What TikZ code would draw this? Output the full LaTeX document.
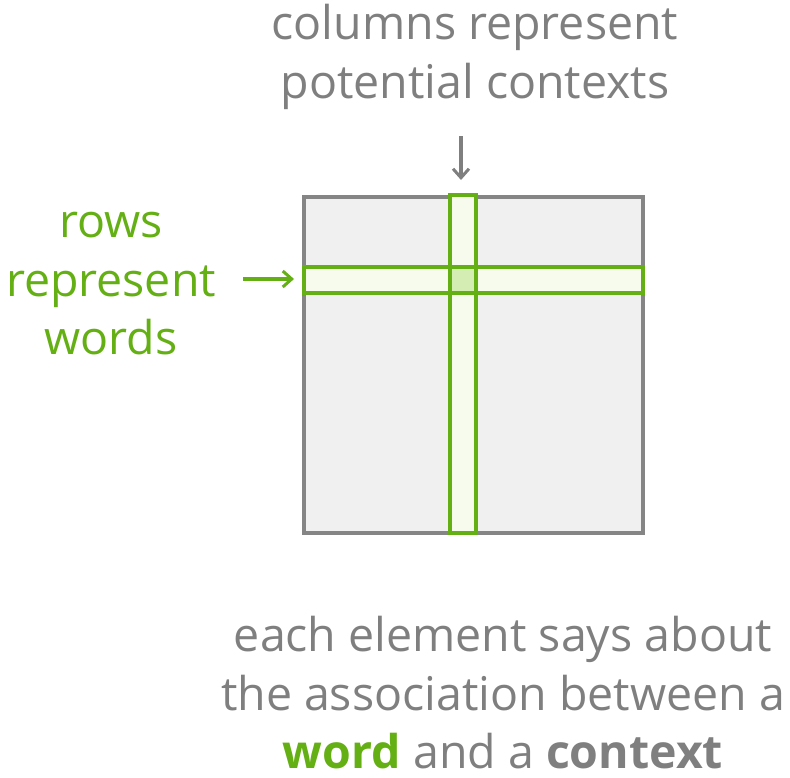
\documentclass[tikz,border=0pt]{standalone}
\usepackage{fontspec}
\setmainfont{Open Sans}
\usetikzlibrary{positioning,arrows.meta}

\definecolor{txtgray}{HTML}{7F7F7F}
\definecolor{boxgray}{HTML}{858585}
\definecolor{boxfill}{HTML}{F0F0F0}
\definecolor{leafgreen}{HTML}{64AF14}
\definecolor{stripfill}{HTML}{F7FBEE}
\definecolor{cellfill}{HTML}{D4EDB3}

\tikzset{
	matrixbox/.style={draw=boxgray, fill=boxfill, line width=3.2pt},
	strip/.style={draw=leafgreen, fill=stripfill, line width=3.2pt},
	cross/.style={fill=cellfill},
	caption/.style={align=center, font=\fontsize{46.5}{58.5}\selectfont, inner sep=0pt},
	pointer/.style={line width=3.4pt, -{Straight Barb[length=9pt, width=16pt, line width=3pt]}}
}

\begin{document}
\begin{tikzpicture}[x=1pt, y=-1pt]
					\useasboundingbox (0,0) rectangle (790,777);
					
					% the matrix and its highlighted row / column
					\draw[matrixbox] (304,197) rectangle (643,533);
					\draw[strip] (450,195) rectangle (476,533);
					\draw[strip] (304,267) rectangle (643,293);
					\fill[cross] (451.6,268.6) rectangle (474.4,291.4);
					\draw[leafgreen, line width=3.2pt] (450,267) -- (450,293) (476,267) -- (476,293);
					
					\coordinate (coltop) at (461,180);
					\coordinate (rowleft) at (294,279);
					
					\node[caption, text=txtgray] (cols) at (475,57) {columns represent\\potential contexts};
					\node[caption, text=leafgreen] (rows) at (111,284) {rows\\represent\\words};
					\node[caption, text=txtgray] (elem) at (503,693) {each element says about\\the association between a\\{\color{leafgreen}\bfseries word} and a {\bfseries context}};
					
					\draw[pointer, txtgray] (461,136) -- (coltop);
					\draw[pointer, leafgreen] (243,279) -- (rowleft);
					
				\end{tikzpicture}
\end{document}
